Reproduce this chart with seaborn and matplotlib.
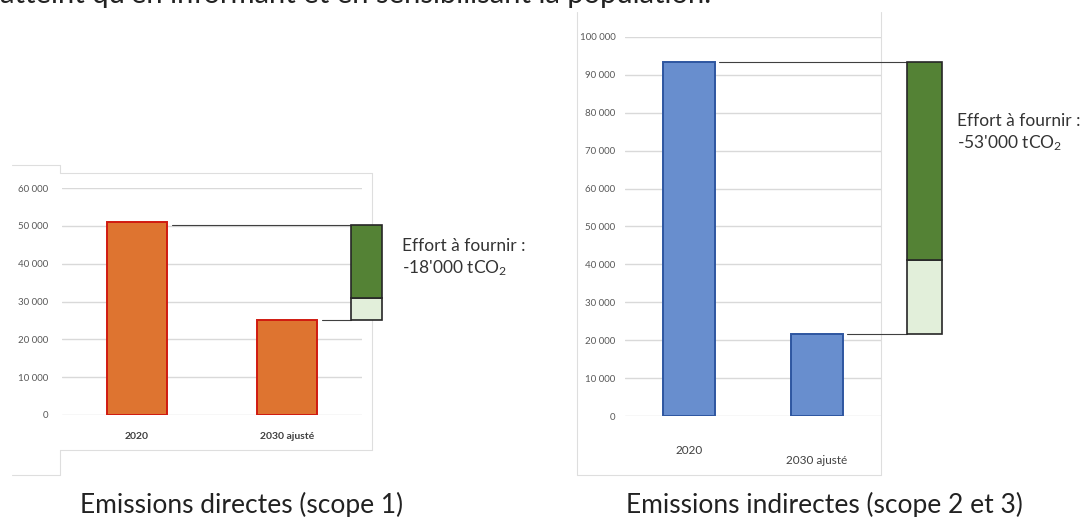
import matplotlib
matplotlib.use('Agg')
import matplotlib.pyplot as plt
import matplotlib.transforms as mtransforms
from matplotlib.lines import Line2D
import seaborn as sns

sns.set_style('white')
plt.rcParams['font.family'] = ['Lato', 'DejaVu Sans']
plt.rcParams['mathtext.default'] = 'regular'

# ---- data ----
categories = ['2020', '2030 ajusté']

direct_values = [51000, 25100]           # scope 1
direct_target = 30900                    # split light / dark green
direct_top = 50100                       # top of the effort box
direct_ticks = [0, 10000, 20000, 30000, 40000, 50000, 60000]

indirect_values = [93500, 21600]         # scope 2 + 3
indirect_target = 41200
indirect_top = 93500
indirect_ticks = list(range(0, 100001, 10000))

effort_labels = ["Effort à fournir :\n-18'000 tCO$_2$",
                 "Effort à fournir :\n-53'000 tCO$_2$"]
captions = ['Emissions directes (scope 1)', 'Emissions indirectes (scope 2 et 3)']
top_line = "atteint qu'en informant et en sensibilisant la population."

W, H = 1084, 517
fig = plt.figure(figsize=(W / 100, H / 100), dpi=100)
fig.patch.set_facecolor('white')


def px_axes(x0, y_zero, width, height):
    return fig.add_axes([x0 / W, (H - y_zero) / H, width / W, height / H])


def fmt(v):
    return f'{v:,}'.replace(',', ' ')


def draw_panel(ax, values, target, top, ticks, fill, edge, bar_w,
               box_x, box_w, tick_pad, label_kw):
    sns.barplot(x=categories, y=values, ax=ax, color=fill, width=bar_w,
                edgecolor=edge, linewidth=1.4, saturation=1)
    # effort box: light part then dark part, stacked on the 2030 value
    ax.bar(box_x, target - values[1], bottom=values[1], width=box_w,
           color='#E2EFDA', edgecolor='#262626', linewidth=1.2, clip_on=False, zorder=3)
    ax.bar(box_x, top - target, bottom=target, width=box_w,
           color='#548235', edgecolor='#262626', linewidth=1.2, clip_on=False, zorder=3)
    # connector lines
    ax.plot([0 + bar_w / 2 + 0.03, box_x - box_w / 2], [top, top],
            color='#404040', lw=0.8, clip_on=False, zorder=2)
    ax.plot([1 + bar_w / 2 + 0.03, box_x - box_w / 2], [values[1], values[1]],
            color='#404040', lw=0.8, clip_on=False, zorder=2)

    ax.set_xlim(-0.5, 1.5)
    ax.set_ylim(0, ticks[-1])
    ax.set_yticks(ticks)
    ax.set_yticklabels([fmt(t) for t in ticks], color='#595959', fontsize=7)
    ax.yaxis.grid(True, color='#d9d9d9', lw=1)
    ax.set_axisbelow(True)
    ax.set_facecolor('none')
    ax.tick_params(axis='y', length=0, pad=tick_pad)
    ax.tick_params(axis='x', length=0)
    ax.set_xticks([0, 1])
    ax.set_xticklabels(categories, color='#404040', **label_kw)
    ax.set_xlabel('')
    ax.set_ylabel('')
    sns.despine(ax=ax, left=True, bottom=True)


# left panel: direct emissions
ax1 = px_axes(62, 415, 300, 227)
draw_panel(ax1, direct_values, direct_target, direct_top, direct_ticks,
           '#DE7430', '#D01A10', 0.40, 1.53, 0.21, 10,
           dict(fontsize=7.5, fontweight='bold'))
ax1.tick_params(axis='x', pad=12)

# right panel: indirect emissions
ax2 = px_axes(625, 416, 256, 379)
draw_panel(ax2, indirect_values, indirect_target, indirect_top, indirect_ticks,
           '#688ECE', '#2E56A0', 0.41, 1.84, 0.28, 7,
           dict(fontsize=8.5))
ax2.tick_params(axis='x', pad=21)
lab = ax2.get_xticklabels()[1]
lab.set_transform(lab.get_transform() +
                  mtransforms.ScaledTranslation(0, -10 / 100, fig.dpi_scale_trans))

# effort annotations
fig.text(402 / W, 1 - 258 / H, effort_labels[0], fontsize=12.5, color='#333333',
         va='center', ha='left', linespacing=1.35)
fig.text(957 / W, 1 - 133 / H, effort_labels[1], fontsize=12.5, color='#333333',
         va='center', ha='left', linespacing=1.35)

# captions and cut-off document text
fig.text(242 / W, 1 - 505 / H, captions[0], fontsize=19, color='#222222',
         ha='center', va='center')
fig.text(824 / W, 1 - 505 / H, captions[1], fontsize=19, color='#222222',
         ha='center', va='center')
fig.text(0, 1 - 3 / H, top_line, fontsize=21, color='#222222',
         ha='left', va='baseline')

# light frames of the pasted screenshots (behind the charts)
frame = dict(color='#dedede', lw=0.8, zorder=-1)
for xs, ys in [([12, 60, 60, 372], [165, 165, 173, 173]),
               ([372, 372], [173, 450]),
               ([60, 372], [450, 450]),
               ([60, 60, 12], [450, 475, 475]),
               ([577, 577, 881, 881], [12, 475, 475, 12])]:
    fig.add_artist(Line2D([x / W for x in xs], [1 - y / H for y in ys], **frame))

fig.savefig('out.png', dpi=100, facecolor='white')
